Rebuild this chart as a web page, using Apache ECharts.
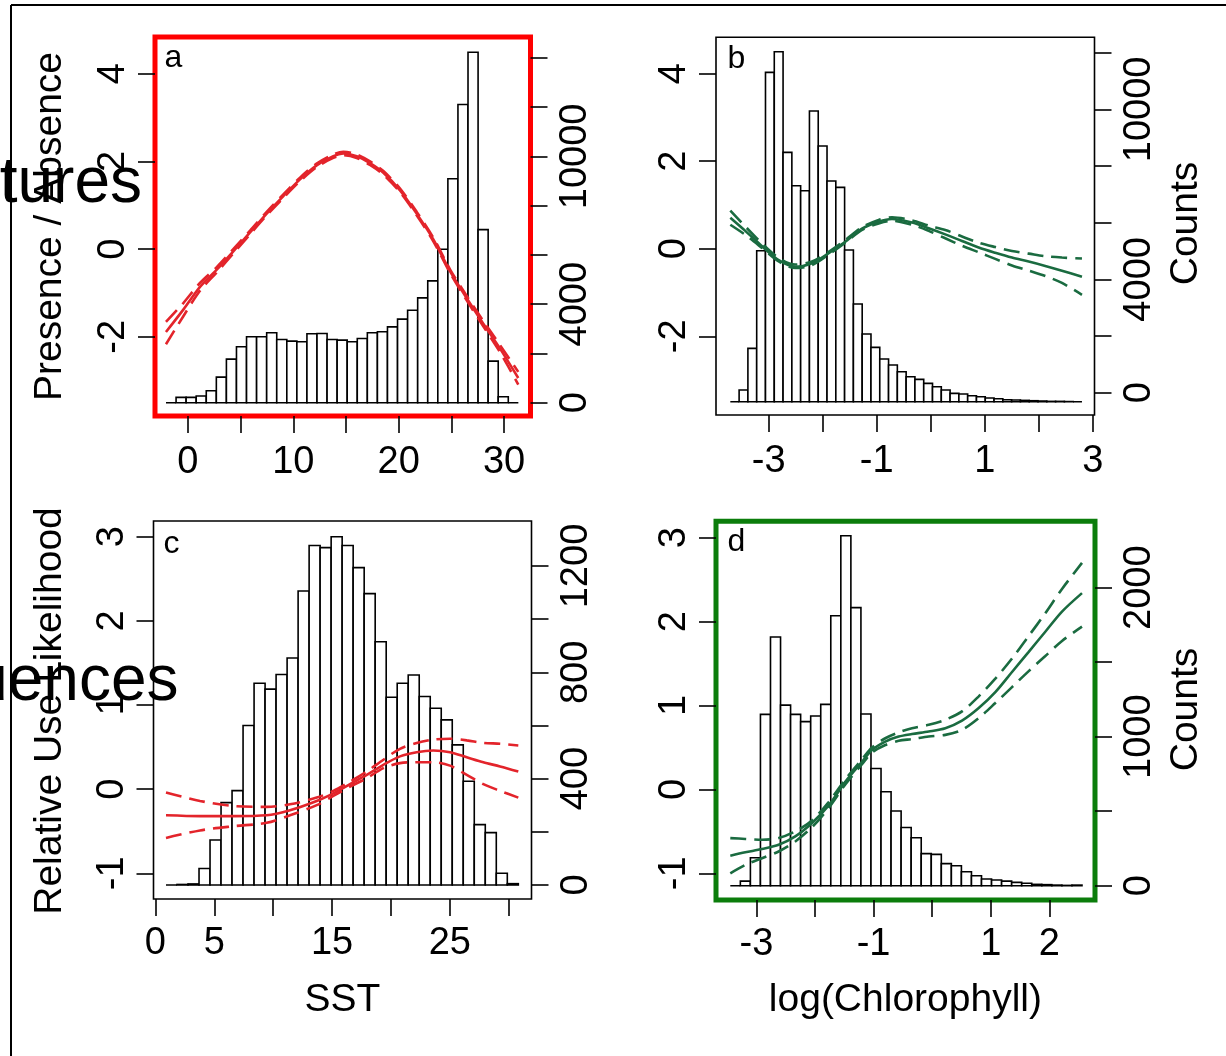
<!DOCTYPE html>
<html><head><meta charset="utf-8">
<script src="https://cdn.jsdelivr.net/npm/echarts@6/dist/echarts.min.js"></script>
<style>html,body{margin:0;padding:0;background:#fff}#c{width:1226px;height:1056px}</style>
</head><body><div id="c"></div><script>
// ---------- data ----------
// Panel a: SST histogram (counts) + presence/absence smooth
const histA_start = -2.075, histA_width = 0.9552;
const histA_counts = [0,216,216,270,486,1040,1770,2270,2675,2675,2837,2567,2500,2472,2797,2810,2567,2540,2472,2607,2837,2878,3080,3391,3756,4256,4945,6228,9092,12105,14226,7025,1689,243,0];
const lineA_x = [-2.08,-0.43,1.15,2.74,4.31,5.90,7.48,9.06,10.64,12.22,13.80,14.75,16.02,17.28,18.55,20.13,21.71,23.29,24.87,26.46,28.03,29.62,31.35];
const lineA_fit = [-1.89,-1.38,-0.86,-0.47,-0.05,0.38,0.81,1.21,1.59,1.91,2.12,2.18,2.12,1.96,1.74,1.34,0.81,0.22,-0.50,-1.12,-1.70,-2.27,-2.94];
const lineA_up  = [-1.66,-1.23,-0.77,-0.41,0.00,0.42,0.85,1.25,1.63,1.95,2.16,2.22,2.16,2.00,1.78,1.38,0.85,0.26,-0.46,-1.07,-1.64,-2.19,-2.80];
const lineA_lo  = [-2.17,-1.53,-0.95,-0.53,-0.10,0.34,0.77,1.17,1.55,1.87,2.08,2.14,2.08,1.92,1.70,1.30,0.77,0.18,-0.54,-1.17,-1.76,-2.35,-3.09];

// Panel b: log(Chlorophyll) histogram + presence/absence smooth
const histB_start = -3.709, histB_width = 0.16265;
const histB_counts = [0,412,1882,5329,11624,12353,8800,7624,7447,10259,9024,7788,7565,5353,3447,2388,1918,1506,1294,1059,882,788,647,529,412,294,271,212,176,129,106,71,59,47,35,24,12,12,5,0];
const lineB_x = [-3.709,-3.432,-3.123,-2.814,-2.507,-2.198,-1.889,-1.582,-1.273,-0.964,-0.718,-0.348,-0.039,0.268,0.577,0.886,1.193,1.502,1.811,2.118,2.427,2.797];
const lineB_fit = [0.71,0.41,0.06,-0.26,-0.41,-0.33,-0.10,0.16,0.46,0.62,0.68,0.60,0.47,0.33,0.18,0.03,-0.09,-0.20,-0.29,-0.39,-0.50,-0.64];
const lineB_up  = [0.87,0.51,0.12,-0.21,-0.36,-0.29,-0.07,0.20,0.49,0.66,0.72,0.65,0.53,0.43,0.28,0.14,0.04,-0.05,-0.11,-0.17,-0.20,-0.22];
const lineB_lo  = [0.55,0.32,0.02,-0.29,-0.44,-0.37,-0.13,0.14,0.43,0.58,0.64,0.55,0.41,0.24,0.07,-0.08,-0.23,-0.38,-0.50,-0.62,-0.78,-1.05];

// Panel c: SST histogram + relative use likelihood
const histC_start = 0.900, histC_width = 0.935;
const histC_counts = [0,2,4,62,169,310,355,600,759,737,792,854,1106,1277,1269,1310,1277,1194,1096,915,706,759,790,709,665,621,527,390,227,197,44,5];
const lineC_x = [0.90,3.79,6.62,9.45,11.43,13.70,15.11,16.53,17.95,19.36,20.77,22.19,23.60,25.02,26.44,27.85,29.27,30.82];
const lineC_fit = [-0.31,-0.32,-0.32,-0.31,-0.25,-0.14,-0.05,0.06,0.17,0.29,0.39,0.44,0.46,0.44,0.38,0.32,0.27,0.21];
const lineC_up  = [-0.04,-0.14,-0.20,-0.21,-0.18,-0.10,-0.02,0.09,0.21,0.35,0.48,0.55,0.59,0.60,0.58,0.55,0.54,0.52];
const lineC_lo  = [-0.58,-0.49,-0.44,-0.40,-0.31,-0.19,-0.08,0.03,0.13,0.25,0.31,0.32,0.32,0.28,0.17,0.06,-0.02,-0.10];

// Panel d: log(Chlorophyll) histogram + relative use likelihood
const histD_start = -3.445, histD_width = 0.17146;
const histD_counts = [0,31,188,1150,1669,1212,1150,1101,1139,1217,1812,2349,1866,1152,787,631,501,391,322,215,210,148,134,94,67,45,38,31,22,16,9,7,4,2,4];
const lineD_x = [-3.445,-3.189,-2.904,-2.620,-2.336,-2.051,-1.766,-1.483,-1.198,-1.027,-0.800,-0.572,-0.345,-0.060,0.224,0.509,0.794,1.077,1.362,1.647,1.930,2.215,2.556];
const lineD_fit = [-0.79,-0.75,-0.71,-0.66,-0.56,-0.40,-0.19,0.09,0.33,0.47,0.57,0.63,0.66,0.69,0.73,0.82,0.97,1.16,1.40,1.64,1.88,2.12,2.34];
const lineD_up  = [-0.58,-0.59,-0.60,-0.58,-0.50,-0.37,-0.15,0.12,0.36,0.50,0.61,0.68,0.73,0.77,0.83,0.93,1.11,1.32,1.56,1.83,2.10,2.39,2.70];
const lineD_lo  = [-1.00,-0.90,-0.82,-0.74,-0.62,-0.45,-0.22,0.06,0.30,0.44,0.53,0.58,0.60,0.63,0.65,0.71,0.85,1.03,1.22,1.41,1.59,1.77,1.94];

// tick values / labels
const ticksSST_A = [0,5,10,15,20,25,30], labelsSST_A = [0,10,20,30];
const ticksSST_C = [0,5,10,15,20,25,30], labelsSST_C = [0,5,15,25];
const ticksChl_B = [-3,-2,-1,0,1,2,3], labelsChl_B = [-3,-1,1,3];
const ticksChl_D = [-3,-2,-1,0,1,2], labelsChl_D = [-3,-1,1,2];
const ticksPA = [-2,0,2,4];
const ticksRU = [-1,0,1,2,3];
const ticksCountA = [0,2000,4000,6000,8000,10000,12000,14000], labelsCountA = [0,4000,10000];
const ticksCountB = [0,2000,4000,6000,8000,10000,12000], labelsCountB = [0,4000,10000];
const ticksCountC = [0,200,400,600,800,1000,1200], labelsCountC = [0,400,800,1200];
const ticksCountD = [0,500,1000,1500,2000], labelsCountD = [0,1000,2000];

// ---------- chart ----------
const FONT = "'Liberation Sans', Arial, Helvetica, sans-serif";
const RED = '#e3242b', GREEN = '#1a6b40';

function bins(start, width, counts) {
  return counts.map((c, i) => [start + i * width, start + (i + 1) * width, c]);
}
function pairs(xs, ys) { return xs.map((x, i) => [x, ys[i]]); }
const plain = v => String(v);

function xAx(gi, min, max, ticks, labels, margin) {
  return {type:'value', gridIndex:gi, min, max,
    axisLine:{show:false, onZero:false}, splitLine:{show:false},
    axisTick:{show:true, length:17, lineStyle:{color:'#000', width:1.6}, customValues:ticks},
    axisLabel:{customValues:labels, formatter:plain, fontSize:38, fontFamily:FONT, color:'#000', margin:margin}};
}
function yAx(gi, pos, min, max, ticks, labels, margin) {
  return {type:'value', gridIndex:gi, position:pos, min, max,
    axisLine:{show:false, onZero:false}, splitLine:{show:false},
    axisTick:{show:true, length:17, lineStyle:{color:'#000', width:1.6}, customValues:ticks},
    axisLabel:{customValues:labels, formatter:plain, rotate:90, fontSize:38, fontFamily:FONT, color:'#000', margin:margin}};
}
function histSeries(gi, yi, data) {
  return {type:'custom', xAxisIndex:gi, yAxisIndex:yi, data, z:2,
    encode:{x:[0,1], y:2},
    renderItem:(params, api) => {
      const p0 = api.coord([api.value(0), api.value(2)]);
      const p1 = api.coord([api.value(1), 0]);
      return {type:'rect', shape:{x:p0[0], y:p0[1], width:p1[0]-p0[0], height:p1[1]-p0[1]},
        style:{fill:'#fff', stroke:'#000', lineWidth:1.6}};
    }};
}
function lineSeries(gi, yi, data, color, dashed) {
  return {type:'line', xAxisIndex:gi, yAxisIndex:yi, data, showSymbol:false, smooth:0.3, z:5,
    lineStyle:{color, width:2.6, type: dashed ? [16,8] : 'solid'}, silent:true, animation:false};
}

const grids = [
  {left:155, top:37, width:375.5, height:379, show:true, borderColor:'#ff0000', borderWidth:5},
  {left:716, top:37.3, width:378.5, height:377.7, show:true, borderColor:'#000', borderWidth:1.6},
  {left:153.5, top:521, width:378, height:378, show:true, borderColor:'#000', borderWidth:1.6},
  {left:716, top:521.3, width:379, height:378.7, show:true, borderColor:'#0b7d0b', borderWidth:5}
];

const xAxes = [
  xAx(0, -3.119, 32.51, ticksSST_A, labelsSST_A, 28),
  xAx(1, -3.974, 3.029, ticksChl_B, labelsChl_B, 28),
  xAx(2, -0.161, 31.94, ticksSST_C, labelsSST_C, 26),
  xAx(3, -3.689, 2.778, ticksChl_D, labelsChl_D, 26)
];
const LM = 22, RM = 26;
const yAxes = [
  yAx(0, 'left', -3.806, 4.838, ticksPA, ticksPA, LM),
  yAx(0, 'right', -539, 14844, ticksCountA, labelsCountA, RM),
  yAx(1, 'left', -3.796, 4.831, ticksPA, ticksPA, LM),
  yAx(1, 'right', -787, 12544, ticksCountB, labelsCountB, RM),
  {type:'value', gridIndex:1, position:'right', min:-469, max:12861, show:false},
  yAx(2, 'left', -1.305, 3.187, ticksRU, ticksRU, LM),
  yAx(2, 'right', -52.7, 1369.3, ticksCountC, labelsCountC, RM),
  yAx(3, 'left', -1.318, 3.196, ticksRU, ticksRU, LM),
  yAx(3, 'right', -96, 2445.6, ticksCountD, labelsCountD, RM)
];

const series = [
  histSeries(0, 1, bins(histA_start, histA_width, histA_counts)),
  lineSeries(0, 0, pairs(lineA_x, lineA_up), RED, true),
  lineSeries(0, 0, pairs(lineA_x, lineA_lo), RED, true),
  lineSeries(0, 0, pairs(lineA_x, lineA_fit), RED, false),
  histSeries(1, 4, bins(histB_start, histB_width, histB_counts)),
  lineSeries(1, 2, pairs(lineB_x, lineB_up), GREEN, true),
  lineSeries(1, 2, pairs(lineB_x, lineB_lo), GREEN, true),
  lineSeries(1, 2, pairs(lineB_x, lineB_fit), GREEN, false),
  histSeries(2, 6, bins(histC_start, histC_width, histC_counts)),
  lineSeries(2, 5, pairs(lineC_x, lineC_up), RED, true),
  lineSeries(2, 5, pairs(lineC_x, lineC_lo), RED, true),
  lineSeries(2, 5, pairs(lineC_x, lineC_fit), RED, false),
  histSeries(3, 8, bins(histD_start, histD_width, histD_counts)),
  lineSeries(3, 7, pairs(lineD_x, lineD_up), GREEN, true),
  lineSeries(3, 7, pairs(lineD_x, lineD_lo), GREEN, true),
  lineSeries(3, 7, pairs(lineD_x, lineD_fit), GREEN, false)
];

function txt(text, x, y, size, opts) {
  opts = opts || {};
  return {type:'text', x, y, rotation: opts.rot || 0, z:100,
    style:{text, font: size + 'px ' + FONT, fill:'#000',
      textAlign: opts.align || 'center', textVerticalAlign: opts.valign || 'middle'}};
}
const R90 = Math.PI / 2;
const graphic = [
  {type:'line', z:100, shape:{x1:11, y1:5, x2:1226, y2:5}, style:{stroke:'#000', lineWidth:2}},
  {type:'line', z:100, shape:{x1:11, y1:5, x2:11, y2:1056}, style:{stroke:'#000', lineWidth:2}},
  txt('Presence / Absence', 50.7, 226.5, 39, {rot:R90}),
  txt('Relative Use Likelihood', 50.7, 711, 39, {rot:R90}),
  txt('Counts', 1186, 223.5, 39, {rot:R90}),
  txt('Counts', 1186, 709.5, 39, {rot:R90}),
  txt('SST', 342.5, 1000.5, 39),
  txt('log(Chlorophyll)', 905.4, 1000.5, 39),
  txt('a', 164.5, 57.9, 32, {align:'left'}),
  txt('b', 727.5, 59.5, 32, {align:'left'}),
  txt('c', 163.5, 544, 32, {align:'left'}),
  txt('d', 727.5, 542.5, 32, {align:'left'}),
  txt('tures', 142, 184, 64, {align:'right'}),
  txt('uences', 178.5, 682, 64, {align:'right'})
];

const chart = echarts.init(document.getElementById('c'), null, {renderer:'canvas'});
chart.setOption({animation:false, backgroundColor:'#fff', grid:grids, xAxis:xAxes, yAxis:yAxes, series, graphic});
</script></body></html>
